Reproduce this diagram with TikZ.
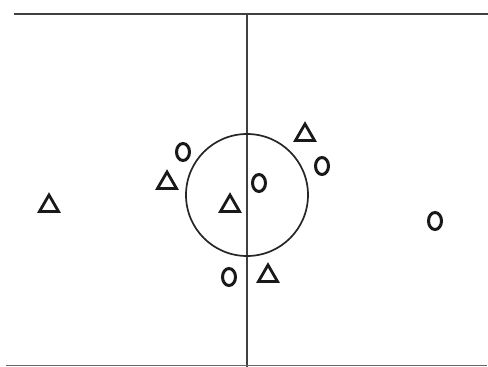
\documentclass[tikz,border=0pt]{standalone}
\usetikzlibrary{shapes.geometric}
\begin{document}
\begin{tikzpicture}[x=1pt,y=-1pt,
  tri/.style={draw=black!90,regular polygon,regular polygon sides=3,minimum size=22pt,inner sep=0pt,line width=2.8pt},
  ring/.style={draw=black!90,ellipse,minimum width=13pt,minimum height=17pt,inner sep=0pt,line width=3pt},
  bar/.style={draw=black!75,line width=2.3pt}]
\useasboundingbox (0,0) rectangle (488,367);
\coordinate (tl) at (14,14);
\coordinate (tr) at (488,14);
\coordinate (vt) at (247,14);
\coordinate (vb) at (247,367);
\coordinate (bl) at (6,365.5);
\coordinate (br) at (487,365.5);
\draw[bar] (tl) -- (tr);
\draw[bar] (vt) -- (vb);
\draw[draw=black!60,line width=1.8pt] (bl) -- (br);
\node[draw=black!85,circle,minimum size=122pt,inner sep=0pt,line width=1.7pt] (c) at (247,195) {};
\node[tri] (t1) at (49,206) {};
\node[tri] (t2) at (167,183) {};
\node[tri] (t3) at (230,206) {};
\node[tri] (t4) at (305,135) {};
\node[tri] (t5) at (268,276) {};
\node[ring] (o1) at (183,152) {};
\node[ring] (o2) at (259,183) {};
\node[ring] (o3) at (322,166) {};
\node[ring] (o4) at (229,277) {};
\node[ring] (o5) at (435,221) {};
\end{tikzpicture}
\end{document}
